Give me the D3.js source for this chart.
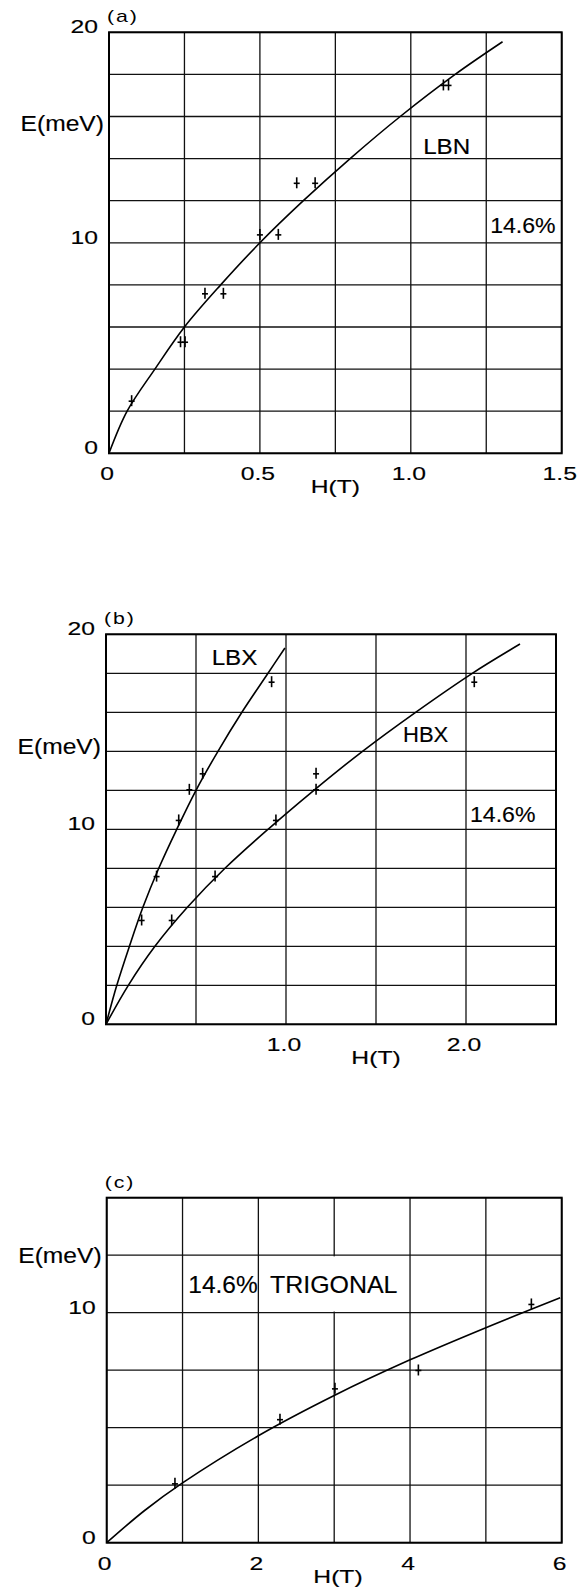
<!DOCTYPE html>
<html>
<head>
<meta charset="utf-8">
<script src="https://cdn.jsdelivr.net/npm/d3@7/dist/d3.min.js"></script>
<style>
body {
  margin: 0;
  background-color: white;
}
text {
  font-family: "Liberation Sans", Arial, sans-serif;
  fill: black;
  stroke: black;
  stroke-width: 0.15px;
}
</style>
</head>
<body>
<svg id="d3output"></svg>
<script>
// (a) LBN
var aPoints = [[0.075, 2.5], [0.237, 5.3], [0.252, 5.3], [0.318, 7.6], [0.379, 7.6],
               [0.50, 10.4], [0.561, 10.4], [0.622, 12.85], [0.683, 12.85], [1.108, 17.5], [1.125, 17.5]];
var aCurve = [[0, 0], [0.06, 2], [0.152, 4], [0.25, 6], [0.37, 8], [0.5, 10], [0.644, 12],
              [0.799, 14], [0.965, 16], [1.147, 18], [1.304, 19.55]];
var aXTicks = [0, 0.5, 1.0, 1.5];
var aXLabels = ["0", "0.5", "1.0", "1.5"];
var aYTicks = [0, 10, 20];
var aYLabels = ["0", "10", "20"];

// (b) LBX and HBX
var bLbxPoints = [[0.198, 5.35], [0.281, 7.6], [0.404, 10.48], [0.463, 12.05], [0.537, 12.87], [0.92, 17.57]];
var bHbxPoints = [[0.365, 5.35], [0.606, 7.6], [0.944, 10.48], [1.167, 12.05], [1.167, 12.87], [2.046, 17.57]];
var bLbxCurve = [[0, 0], [0.06, 2], [0.13, 4], [0.205, 6], [0.293, 8], [0.393, 10], [0.5, 12],
                 [0.622, 14], [0.755, 16], [0.9, 18], [0.994, 19.3]];
var bHbxCurve = [[0, 0], [0.124, 2], [0.272, 4], [0.452, 6], [0.661, 8], [0.9, 10], [1.155, 12],
                 [1.425, 14], [1.72, 16], [2.035, 18], [2.3, 19.5]];
var bXTicks = [1.0, 2.0];
var bXLabels = ["1.0", "2.0"];
var bYTicks = [0, 10, 20];
var bYLabels = ["0", "10", "20"];

// (c) trigonal
var cPoints = [[0.9, 2.58], [2.285, 5.37], [3.01, 6.71], [4.11, 7.51], [5.6, 10.38]];
var cCurve = [[0, 0], [0.5, 1.4], [1.0, 2.6], [2.0, 4.65], [3.0, 6.4], [4.0, 7.95],
              [5.0, 9.35], [5.98, 10.65]];
var cXTicks = [0, 2, 4, 6];
var cXLabels = ["0", "2", "4", "6"];
var cYTicks = [0, 10];
var cYLabels = ["0", "10"];

const width = 580;
const height = 1587;
var svg = d3.select("#d3output").attr("width", width).attr("height", height);

function txt(g, x, y, s, size, sx, anchor) {
  return g.append("text")
          .attr("transform", "translate(" + x + "," + y + ") scale(" + sx + ",1)")
          .attr("font-size", size + "px")
          .attr("text-anchor", anchor || "start")
          .text(s);
}

function panel(p) {
  var x = d3.scaleLinear().domain(p.xDomain).range([p.left, p.right]);
  var y = d3.scaleLinear().domain(p.yDomain).range([p.bottom, p.top]);
  var g = svg.append("g");

  g.selectAll("line.gx")
   .data(d3.range(p.xDomain[0], p.xDomain[1] + 1e-9, p.xStep))
   .enter().append("line")
   .attr("x1", (d) => x(d)).attr("x2", (d) => x(d))
   .attr("y1", p.top).attr("y2", p.bottom)
   .attr("stroke", "#111").attr("stroke-width", 1.3);
  g.selectAll("line.gy")
   .data(d3.range(p.yDomain[0], p.yDomain[1] + 1e-9, p.yStep))
   .enter().append("line")
   .attr("x1", p.left).attr("x2", p.right)
   .attr("y1", (d) => y(d)).attr("y2", (d) => y(d))
   .attr("stroke", "#111").attr("stroke-width", 1.3);

  // white patch behind a label that hides the grid
  (p.masks || []).forEach(function(m) {
    g.append("rect")
     .attr("x", x(m[0])).attr("y", y(m[3]))
     .attr("width", x(m[1]) - x(m[0])).attr("height", y(m[2]) - y(m[3]))
     .attr("fill", "white");
  });

  g.append("rect")
   .attr("x", p.left).attr("y", p.top)
   .attr("width", p.right - p.left).attr("height", p.bottom - p.top)
   .attr("fill", "none").attr("stroke", "#000").attr("stroke-width", 2);

  var line = d3.line().curve(d3.curveCatmullRom.alpha(0.5))
               .x((d) => x(d[0]))
               .y((d) => y(d[1]));

  g.selectAll("path.curve")
   .data(p.curves)
   .enter().append("path")
   .attr("fill", "none")
   .attr("stroke", "#000")
   .attr("stroke-width", 1.6)
   .attr("d", line);

  var pts = [].concat.apply([], p.points);
  var marks = g.selectAll("g.pt").data(pts).enter().append("g")
               .attr("transform", (d) => "translate(" + x(d[0]) + "," + y(d[1]) + ")");
  marks.append("line").attr("x1", 0).attr("x2", 0).attr("y1", -5.5).attr("y2", 5.5)
       .attr("stroke", "#000").attr("stroke-width", 1.6);
  marks.append("line").attr("x1", -3).attr("x2", 3).attr("y1", 0.5).attr("y2", 0.5)
       .attr("stroke", "#000").attr("stroke-width", 1.6);

  // tick labels
  p.yTicks.forEach(function(v, i) {
    txt(g, p.left - 11, y(v) + 1, p.yLabels[i], 19, 1.3, "end");
  });
  p.xTicks.forEach(function(v, i) {
    txt(g, x(v) - 2, p.bottom + 27, p.xLabels[i], 19, 1.3, "middle");
  });
  txt(g, x(p.hLabelX), p.bottom + 40, "H(T)", 19, 1.3, "middle");
  txt(g, p.left - 5, y(p.eLabelY), "E(meV)", 22, 1.12, "end");
  txt(g, p.left - 2, p.top - 10, p.tag, 17, 1.25)
    .attr("letter-spacing", "1.5px").style("stroke", "none");

  p.notes.forEach(function(n) {
    txt(g, x(n.x), y(n.y), n.t, n.size, n.sx);
  });
}

panel({
  left: 109, right: 561.7, top: 32.3, bottom: 453.3,
  xDomain: [0, 1.5], yDomain: [0, 20], xStep: 0.25, yStep: 2,
  curves: [aCurve], points: [aPoints],
  xTicks: aXTicks, xLabels: aXLabels, yTicks: aYTicks, yLabels: aYLabels,
  hLabelX: 0.75, eLabelY: 15.3, tag: "(a)",
  notes: [{t: "LBN", x: 1.041, y: 14.2, size: 22, sx: 1.1},
          {t: "14.6%", x: 1.263, y: 10.45, size: 22, sx: 1.05}]
});

panel({
  left: 106, right: 556, top: 634.3, bottom: 1024.3,
  xDomain: [0, 2.5], yDomain: [0, 20], xStep: 0.5, yStep: 2,
  curves: [bLbxCurve, bHbxCurve], points: [bLbxPoints, bHbxPoints],
  xTicks: bXTicks, xLabels: bXLabels, yTicks: bYTicks, yLabels: bYLabels,
  hLabelX: 1.5, eLabelY: 13.86, tag: "(b)",
  notes: [{t: "LBX", x: 0.587, y: 18.43, size: 22, sx: 1.1},
          {t: "HBX", x: 1.65, y: 14.48, size: 22, sx: 1.0},
          {t: "14.6%", x: 2.022, y: 10.39, size: 22, sx: 1.05}]
});

panel({
  left: 106.7, right: 561.7, top: 1197.7, bottom: 1542.7,
  xDomain: [0, 6], yDomain: [0, 15], xStep: 1, yStep: 2.5,
  curves: [cCurve], points: [cPoints],
  xTicks: cXTicks, xLabels: cXLabels, yTicks: cYTicks, yLabels: cYLabels,
  hLabelX: 3.05, eLabelY: 12.15, tag: "(c)",
  masks: [[2.05, 3.97, 10.05, 12.45]],
  notes: [{t: "14.6%", x: 1.076, y: 10.84, size: 24, sx: 1.02},
          {t: "TRIGONAL", x: 2.153, y: 10.84, size: 24, sx: 1.04}]
});
</script>
</body>
</html>
